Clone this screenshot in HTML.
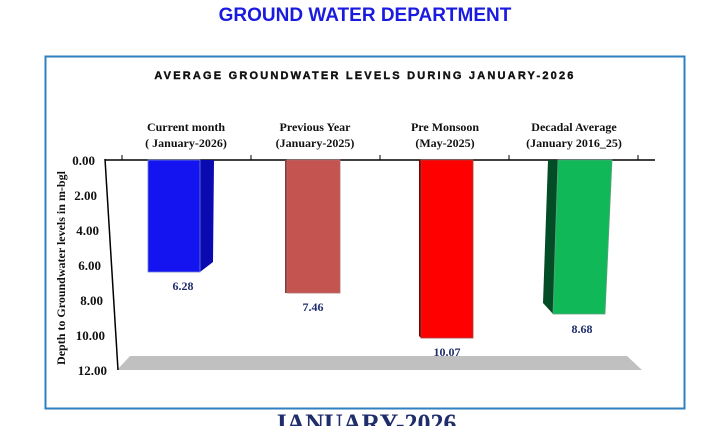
<!DOCTYPE html>
<html><head><style>
html,body{margin:0;padding:0;background:#fff;width:711px;height:426px;overflow:hidden}
</style></head><body>
<svg width="711" height="426" xmlns="http://www.w3.org/2000/svg" font-family="Liberation Serif, serif">
<text x="365" y="21" text-anchor="middle" font-family="Liberation Sans, sans-serif" font-weight="bold" font-size="19" fill="#1b1be0">GROUND WATER DEPARTMENT</text>
<rect x="45.5" y="56.5" width="639" height="352" fill="#fff" stroke="#2f80c0" stroke-width="2"/>
<text x="365" y="79" text-anchor="middle" font-family="Liberation Sans, sans-serif" font-weight="bold" font-size="11" letter-spacing="2.2" fill="#111" stroke="#111" stroke-width="0.4">AVERAGE GROUNDWATER LEVELS DURING JANUARY-2026</text>
<!-- floor -->
<polygon points="117,370 130,356 627,356 642,370" fill="#c0c0c0"/>
<!-- axes -->
<line x1="105" y1="160" x2="655" y2="160" stroke="#000" stroke-width="1.5"/>
<line x1="105" y1="159" x2="118" y2="370" stroke="#000" stroke-width="1.5"/>
<g stroke="#000"><line x1="122" y1="155" x2="122" y2="160"/><line x1="251" y1="155" x2="251" y2="160"/><line x1="380" y1="155" x2="380" y2="160"/><line x1="509" y1="155" x2="509" y2="160"/><line x1="638" y1="155" x2="638" y2="160"/></g>
<g font-size="13" font-weight="bold" text-anchor="end" fill="#111">
<text x="95" y="165">0.00</text><text x="97" y="200">2.00</text><text x="99" y="235">4.00</text><text x="101" y="270">6.00</text><text x="103" y="305">8.00</text><text x="105" y="340">10.00</text><text x="107" y="375">12.00</text>
</g>
<text transform="translate(65,268) rotate(-90)" text-anchor="middle" font-size="12" font-weight="bold" fill="#111">Depth to Groundwater levels in m-bgl</text>
<g font-size="12" font-weight="bold" text-anchor="middle" fill="#111">
<text x="186" y="131">Current month</text><text x="186" y="147">( January-2026)</text>
<text x="315" y="131">Previous Year</text><text x="315" y="147">(January-2025)</text>
<text x="445" y="131">Pre Monsoon</text><text x="445" y="147">(May-2025)</text>
<text x="574" y="131">Decadal Average</text><text x="574" y="147">(January 2016_25)</text>
</g>
<!-- bars -->
<polygon points="200,160 214,160 213,262 200,272" fill="#0a0ab0"/>
<rect x="148" y="160" width="52" height="112" fill="#1414f0" stroke="#7080d0" stroke-width="0.8"/>
<polygon points="285,160 287,160 287,293 285,293" fill="#8a3a36"/>
<rect x="287" y="160" width="53" height="133" fill="#c45450" stroke="#b07070" stroke-width="0.8"/>
<polygon points="419,160 421,160 421,338 419,336" fill="#7a0000"/>
<rect x="421" y="160" width="52" height="178" fill="#ff0000" stroke="#a04040" stroke-width="0.8"/>
<polygon points="548,160 558,160 553,314 543,303" fill="#034d26"/>
<polygon points="558,160 612,160 605,314 553,314" fill="#10b858" stroke="#60a080" stroke-width="0.8"/>
<g font-size="12" font-weight="bold" text-anchor="middle" fill="#1f2d6b">
<text x="183" y="290">6.28</text><text x="313" y="311">7.46</text><text x="447" y="356">10.07</text><text x="582" y="333">8.68</text>
</g>
<text x="365" y="432" text-anchor="middle" font-size="26" font-weight="bold" fill="#1f2d6b">JANUARY-2026</text>
</svg>
</body></html>
